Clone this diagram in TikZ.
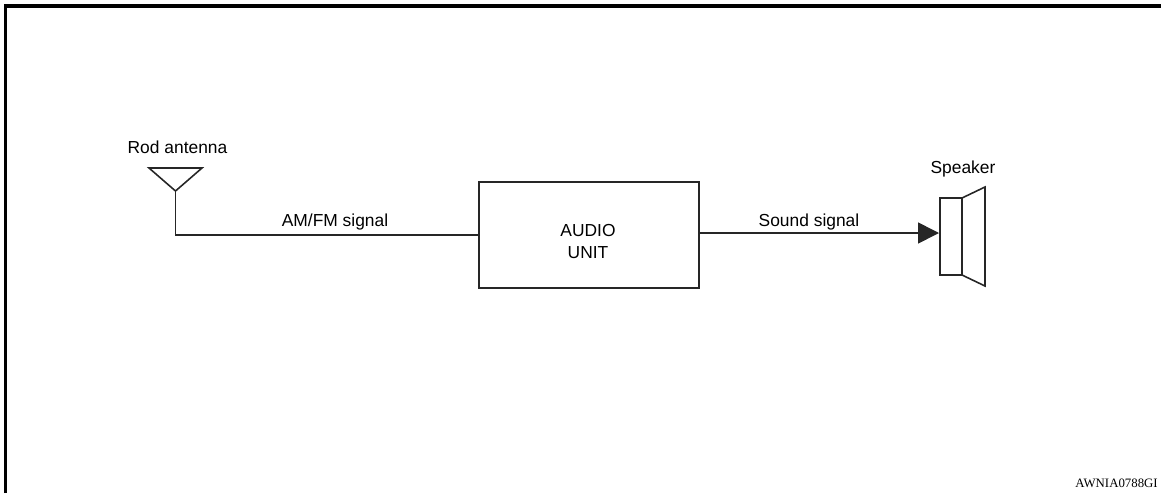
\documentclass[tikz,border=0pt]{standalone}
\usepackage{fontspec}
\setmainfont{Liberation Sans}
\newfontfamily\tagfont{Liberation Serif}
\usetikzlibrary{calc,positioning,arrows.meta}
\tikzset{
    wire/.style={line width=0.9pt, black!85},
    frameline/.style={line width=1.8pt, black},
    unitbox/.style={draw, line width=0.8pt, black!85, minimum width=4.4cm, minimum height=2.12cm, inner sep=0pt},
    caption/.style={font=\fontsize{9.9}{12}\selectfont, black, inner sep=0pt, align=center},
}
\begin{document}
\begin{tikzpicture}
    \useasboundingbox (0,0) rectangle (23.22,9.86);

    % Outer frame, open at the right and at the bottom
    \draw[frameline] (0.11,0) -- (0.11,9.74) -- (23.22,9.74);

    % Audio unit in the middle
    \node[unitbox] (audio) at (11.78,5.16) {};
    \node[caption] (audiotext) at (11.76,5.03) {AUDIO\\[0.6pt]UNIT};

    % Rod antenna on the left
    \coordinate (apex) at (3.51,6.04);
    \draw[wire] (2.98,6.50) -- (4.04,6.50) -- (apex) -- cycle;
    \node[caption] (rodlabel) at (3.55,6.92) {Rod antenna};
    \draw[wire] (apex) |- (audio.west);
    \node[caption] (amfm) at (6.70,5.42) {AM/FM signal};

    % Speaker on the right
    \coordinate (spkin) at (18.78,5.20);
    \draw[wire] (18.80,5.90) rectangle (19.24,4.36);
    \draw[wire] (19.24,5.90) -- (19.70,6.12) -- (19.70,4.14) -- (19.24,4.36);
    \node[caption] (spklabel) at (19.26,6.48) {Speaker};
    \draw[wire, -{Triangle[length=0.42cm,width=0.42cm]}] (audio.east |- spkin) -- (spkin);
    \node[caption] (sound) at (16.18,5.42) {Sound signal};

    % Figure tag at the lower right
    \node[anchor=west, inner sep=0pt, font=\tagfont\fontsize{7.3}{10}\selectfont] (figtag) at (21.50,0.20) {AWNIA0788GI};
\end{tikzpicture}
\end{document}
